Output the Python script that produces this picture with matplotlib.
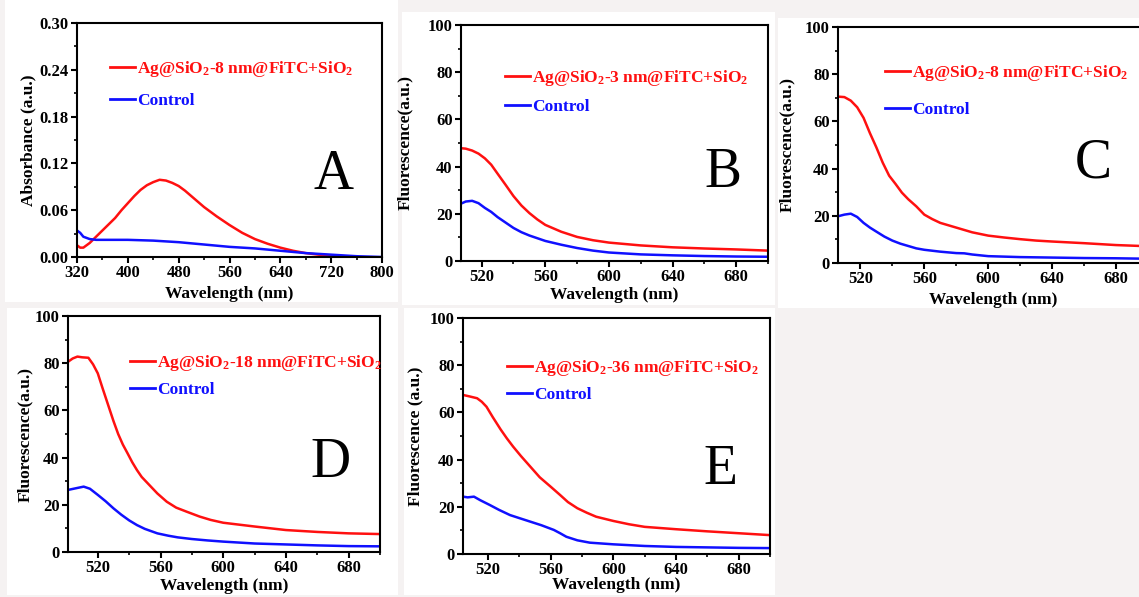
import matplotlib
matplotlib.use("Agg")
from matplotlib import pyplot as plt
from matplotlib.patches import Rectangle
from matplotlib.ticker import MultipleLocator
import numpy as np

plt.rcParams['font.family'] = ['Liberation Serif', 'DejaVu Serif']
plt.rcParams['font.weight'] = 'bold'
plt.rcParams['mathtext.fontset'] = 'custom'
plt.rcParams['mathtext.rm'] = 'Liberation Serif:bold'
plt.rcParams['mathtext.bf'] = 'Liberation Serif:bold'
plt.rcParams['mathtext.it'] = 'Liberation Serif:bold:italic'

# ---- panel A: absorbance ----
a_red_x = [320, 325, 330, 340, 345, 350, 360, 370, 380, 390, 400, 410, 420, 430, 440, 450, 460,
           470, 480, 490, 500, 510, 520, 540, 560, 580, 600, 620, 640, 660, 680, 700, 720, 740, 750]
a_red_y = [0.015, 0.012, 0.012, 0.018, 0.022, 0.026, 0.034, 0.042, 0.050, 0.060, 0.069, 0.078,
           0.086, 0.092, 0.096, 0.099, 0.098, 0.095, 0.091, 0.085, 0.078, 0.071, 0.064, 0.052,
           0.041, 0.031, 0.023, 0.017, 0.012, 0.008, 0.005, 0.003, 0.002, 0.001, 0.0005]
a_blue_x = [320, 325, 330, 340, 350, 360, 400, 440, 480, 520, 560, 600, 640, 680, 720, 760, 800]
a_blue_y = [0.034, 0.031, 0.026, 0.023, 0.022, 0.022, 0.022, 0.021, 0.019, 0.016, 0.013, 0.011,
            0.008, 0.005, 0.003, 0.001, 0.0]

# ---- panel B ----
b_red_x = [507, 510, 514, 518, 522, 526, 530, 535, 540, 545, 550, 555, 560, 570, 580, 590, 600,
           620, 640, 660, 680, 700]
b_red_y = [47.8, 47.6, 46.8, 45.5, 43.5, 40.8, 37.0, 32.3, 27.5, 23.5, 20.3, 17.6, 15.3, 12.4,
           10.2, 8.8, 7.8, 6.6, 5.8, 5.3, 4.9, 4.4]
b_blue_x = [507, 510, 514, 518, 522, 526, 530, 535, 540, 545, 550, 560, 570, 580, 590, 600, 620,
            640, 660, 680, 700]
b_blue_y = [24.3, 25.2, 25.5, 24.5, 22.5, 20.8, 18.6, 16.3, 14.0, 12.2, 10.8, 8.5, 6.9, 5.5, 4.4,
            3.6, 2.8, 2.4, 2.1, 1.9, 1.8]

# ---- panel C ----
c_red_x = [506, 510, 514, 518, 522, 526, 530, 534, 538, 542, 546, 550, 555, 560, 565, 570, 580,
           590, 600, 610, 620, 630, 640, 660, 680, 700]
c_red_y = [70.5, 70.3, 68.8, 66.0, 61.5, 55.0, 49.0, 42.5, 37.0, 33.5, 29.8, 27.0, 24.0, 20.5,
           18.6, 17.0, 15.0, 13.0, 11.6, 10.8, 10.1, 9.5, 9.1, 8.4, 7.6, 7.1]
c_blue_x = [506, 510, 514, 518, 522, 526, 530, 535, 540, 545, 550, 555, 560, 570, 580, 585, 590,
            600, 620, 640, 660, 680, 700]
c_blue_y = [19.8, 20.5, 20.9, 19.5, 17.0, 15.0, 13.3, 11.2, 9.5, 8.2, 7.2, 6.2, 5.6, 4.8, 4.2,
            4.1, 3.6, 2.9, 2.5, 2.3, 2.1, 2.0, 1.8]

# ---- panel D ----
d_red_x = [501, 504, 507, 510, 514, 517, 520, 523, 526, 530, 533, 536, 539, 542, 545, 548, 552,
           558, 564, 570, 577, 585, 592, 600, 620, 640, 660, 680, 700]
d_red_y = [80.6, 82.0, 82.8, 82.5, 82.3, 79.5, 75.7, 69.5, 63.5, 55.5, 50.0, 45.5, 41.8, 38.0,
           34.7, 31.8, 29.0, 24.8, 21.3, 18.8, 17.0, 15.0, 13.6, 12.4, 10.8, 9.3, 8.5, 7.9, 7.6]
d_blue_x = [501, 506, 511, 515, 520, 525, 530, 535, 540, 545, 550, 558, 565, 571, 580, 590, 600,
            620, 640, 660, 680, 700]
d_blue_y = [26.3, 27.0, 27.7, 26.8, 24.2, 21.5, 18.5, 15.8, 13.4, 11.4, 9.8, 7.9, 6.9, 6.2, 5.5,
            4.9, 4.4, 3.6, 3.2, 2.8, 2.5, 2.4]

# ---- panel E ----
e_red_x = [504, 508, 513, 516, 519, 523, 528, 532, 536, 541, 547, 553, 560, 566, 571, 577, 583,
           589, 600, 610, 620, 640, 660, 680, 700]
e_red_y = [67.4, 66.8, 66.0, 64.5, 62.4, 58.0, 52.8, 49.0, 45.5, 41.5, 37.0, 32.5, 28.5, 25.0,
           22.0, 19.4, 17.5, 15.8, 14.0, 12.6, 11.5, 10.5, 9.6, 8.8, 8.0]
e_blue_x = [504, 507, 511, 515, 521, 527, 534, 540, 547, 554, 562, 566, 570, 577, 585, 600, 620,
            640, 660, 680, 700]
e_blue_y = [24.3, 24.0, 24.3, 22.8, 20.8, 18.7, 16.5, 15.2, 13.7, 12.2, 10.2, 8.8, 7.3, 5.8, 4.8,
            4.1, 3.4, 3.0, 2.8, 2.6, 2.5]

W, H = 1139, 597

def px_box(l, t, r, b):
    return [l / W, 1 - b / H, (r - l) / W, (b - t) / H]

panels = [
    dict(box=(77, 23, 382, 257), xlim=(320, 800), ylim=(0, 0.30), xmaj=80, xmin=40, ymaj=0.06,
         ymin=0.03, ylabel='Absorbance (a.u.)', series=(a_red_x, a_red_y, a_blue_x, a_blue_y),
         label='Ag@SiO$_2$-8 nm@FiTC+SiO$_2$', leg=(110, 59), legsp=35, letter='A',
         let_pos=(333, 175), ylab_x=28, xlab_y=294, yfmt='{:.2f}'),
    dict(box=(461, 25, 768, 261), xlim=(507, 700), ylim=(0, 100), xmaj=40, xmin=20, ymaj=20,
         ymin=10, ylabel='Fluorescence(a.u.)', series=(b_red_x, b_red_y, b_blue_x, b_blue_y),
         label='Ag@SiO$_2$-3 nm@FiTC+SiO$_2$', leg=(505, 68), legsp=32, letter='B',
         let_pos=(723, 173), ylab_x=405, xlab_y=295, yfmt='{:.0f}'),
    dict(box=(838, 27, 1148, 263), xlim=(506, 700), ylim=(0, 100), xmaj=40, xmin=20, ymaj=20,
         ymin=10, ylabel='Fluorescence(a.u.)', series=(c_red_x, c_red_y, c_blue_x, c_blue_y),
         label='Ag@SiO$_2$-8 nm@FiTC+SiO$_2$', leg=(885, 63), legsp=40, letter='C',
         let_pos=(1093, 163), ylab_x=787, xlab_y=300, yfmt='{:.0f}'),
    dict(box=(68, 316, 380, 552), xlim=(501, 700), ylim=(0, 100), xmaj=40, xmin=20, ymaj=20,
         ymin=10, ylabel='Fluorescence(a.u.)', series=(d_red_x, d_red_y, d_blue_x, d_blue_y),
         label='Ag@SiO$_2$-18 nm@FiTC+SiO$_2$', leg=(130, 353), legsp=30, letter='D',
         let_pos=(330, 463), ylab_x=25, xlab_y=586, yfmt='{:.0f}'),
    dict(box=(463, 318, 770, 554), xlim=(504, 700), ylim=(0, 100), xmaj=40, xmin=20, ymaj=20,
         ymin=10, ylabel='Fluorescence (a.u.)', series=(e_red_x, e_red_y, e_blue_x, e_blue_y),
         label='Ag@SiO$_2$-36 nm@FiTC+SiO$_2$', leg=(507, 358), legsp=30, letter='E',
         let_pos=(720, 470), ylab_x=415, xlab_y=585, yfmt='{:.0f}'),
]

# white patches behind each panel, light grey elsewhere
white_boxes = [(5, 0, 398, 302), (402, 12, 775, 305), (778, 18, 1139, 308),
               (7, 308, 398, 595), (404, 308, 775, 595)]

fig = plt.figure(figsize=(W / 100, H / 100), dpi=100, facecolor='#f5f2f2')
for l, t, r, b in white_boxes:
    fig.add_artist(Rectangle((l / W, 1 - b / H), (r - l) / W, (b - t) / H,
                             transform=fig.transFigure, facecolor='white', edgecolor='none',
                             zorder=-10))

for p in panels:
    l, t, r, b = p['box']
    ax = fig.add_axes(px_box(l, t, r, b))
    rx, ry, bx, by = p['series']
    ax.plot(rx, ry, color='#ff1010', lw=1.8, label=p['label'])
    ax.plot(bx, by, color='#1010ff', lw=1.8, label='Control')
    ax.set_xlim(*p['xlim'])
    ax.set_ylim(*p['ylim'])
    ax.xaxis.set_major_locator(MultipleLocator(p['xmaj']))
    ax.xaxis.set_minor_locator(MultipleLocator(p['xmin']))
    ax.yaxis.set_major_locator(MultipleLocator(p['ymaj']))
    ax.yaxis.set_minor_locator(MultipleLocator(p['ymin']))
    fmt = p['yfmt']
    ax.yaxis.set_major_formatter(plt.FuncFormatter(lambda v, pos, f=fmt: f.format(v)))
    for s in ax.spines.values():
        s.set_linewidth(1.5)
    ax.tick_params(which='major', direction='out', length=4, width=1.5, labelsize=12, pad=2)
    ax.tick_params(which='minor', direction='out', length=2.5, width=1.2)
    for lab in ax.get_xticklabels() + ax.get_yticklabels():
        lab.set_fontweight('bold')
    ax.set_xlabel('Wavelength (nm)', fontsize=12.5, fontweight='bold')
    ax.set_ylabel(p['ylabel'], fontsize=12.5, fontweight='bold')
    ax.yaxis.set_label_coords((p['ylab_x'] - l) / (r - l), 0.5)
    ax.xaxis.set_label_coords(0.5, (b - p['xlab_y']) / (b - t))
    ax.xaxis.label.set_va('center')
    ax.yaxis.label.set_va('center')

    fs = 12.5
    fs_px = fs * 100 / 72
    lx, ly = p['leg']
    leg = ax.legend(loc='upper left', bbox_to_anchor=(lx / W, 1 - ly / H),
                    bbox_transform=fig.transFigure, frameon=False, borderpad=0,
                    borderaxespad=0, handlelength=1.45, handletextpad=0.1,
                    labelspacing=(p['legsp'] - fs_px * 1.2) / fs_px,
                    prop=dict(size=fs, weight='bold'))
    for txt, line in zip(leg.get_texts(), leg.get_lines()):
        txt.set_color(line.get_color())
        line.set_linewidth(2)

    lpx, lpy = p['let_pos']
    fig.text(lpx / W, 1 - lpy / H, p['letter'], fontsize=40, fontweight='normal',
             ha='center', va='center')

fig.savefig('out.png', dpi=100, facecolor=fig.get_facecolor())
